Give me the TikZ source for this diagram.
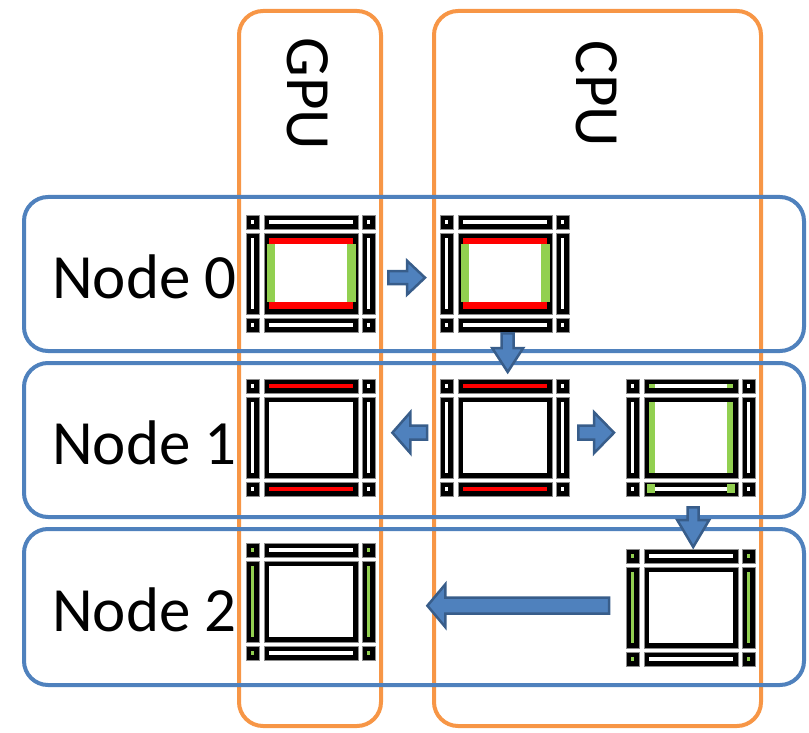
\documentclass[tikz,border=0pt]{standalone}
\usepackage{fontspec}
\setmainfont{Carlito}
\usetikzlibrary{calc}

\definecolor{boxorange}{HTML}{F79646}
\definecolor{boxblue}{HTML}{4F81BD}
\definecolor{arrowfill}{HTML}{4F81BD}
\definecolor{arrowline}{HTML}{385D8A}
\definecolor{hotred}{HTML}{FF0000}
\definecolor{litegreen}{HTML}{92D050}

% block arrow from #1 to #2: shaft half width #3, head half width #4, head length #5
\newcommand\blockarrow[5]{%
  \draw[barrow] let \p1=#1, \p2=#2,
    \n1={atan2(\y2-\y1,\x2-\x1)}, \n2={veclen(\x2-\x1,\y2-\y1)} in
    [shift={(\p1)}, rotate=\n1]
    (0pt,#3pt) -- ({\n2-#5pt},#3pt) -- ({\n2-#5pt},#4pt) -- ({\n2+0pt},0pt)
    -- ({\n2-#5pt},-#4pt) -- ({\n2-#5pt},-#3pt) -- (0pt,-#3pt) -- cycle;}

\tikzset{
  lane/.style={draw=boxblue, line width=4pt, rounded corners=24pt},
  unitcol/.style={draw=boxorange, line width=4pt, rounded corners=24pt},
  lanelabel/.style={font=\fontsize{63}{70}\selectfont, inner sep=0pt, anchor=base west},
  unitlabel/.style={font=\fontsize{63}{70}\selectfont, inner sep=0pt, rotate=-90},
  iconbox/.style={inner sep=0pt, minimum width=129pt, minimum height=117pt, anchor=north west},
  cellframe/.style={fill=black, draw=black!45, line width=0.6pt},
  barrow/.style={fill=arrowfill, draw=arrowline, line width=2.5pt, line join=miter},
  % 3x3 block grid: #1 corner dots, #2 top/bottom slots, #3 side slots
  pics/gridicon/.style n args={3}{code={
    \foreach \xa/\xb in {0/13,116/129}{
      \foreach \ya/\yb in {0/14,103/117}{
        \filldraw[cellframe] (\xa,\ya) rectangle (\xb,\yb);
        \fill[#1] (\xa+5,\ya+5) rectangle (\xb-5,\yb-5);
      }
    }
    \foreach \ya/\yb in {0/14,103/117}{
      \filldraw[cellframe] (18,\ya) rectangle (112,\yb);
      \fill[#2] (23,\ya+5) rectangle (107,\yb-5);
    }
    \foreach \xa/\xb in {0/13,116/129}{
      \filldraw[cellframe] (\xa,18) rectangle (\xb,99);
      \fill[#3] (\xa+5,23) rectangle (\xb-5,94);
    }
    \filldraw[cellframe] (18,18) rectangle (112,99);
    \fill[white] (23,23) rectangle (107,94);
  }},
  % halo of the centre block
  pics/fullframe/.style={code={
    \fill[hotred] (23,23) rectangle (107,29);
    \fill[hotred] (23,87) rectangle (107,94);
    \fill[litegreen] (21,29) rectangle (29,87);
    \fill[litegreen] (101,29) rectangle (109.5,87);
  }},
  % left/right edges of the centre block plus their corner cells
  pics/sideedges/.style={code={
    \fill[litegreen] (23,23) rectangle (28.7,94);
    \fill[litegreen] (101,23) rectangle (107,94);
    \fill[litegreen] (23,5) rectangle (28.7,9);
    \fill[litegreen] (101,5) rectangle (107,9);
    \fill[litegreen] (21,105) rectangle (28.7,114);
    \fill[litegreen] (101,105) rectangle (109.3,114);
  }},
}

\begin{document}
\begin{tikzpicture}[x=1pt, y=-1pt]
\useasboundingbox (0,0) rectangle (809,733);

% processor columns
\draw[unitcol] (239,11) rectangle (381,726);
\draw[unitcol] (434,11) rectangle (761,726);
\node[unitlabel] (gpu) at (308,94) {GPU};
\node[unitlabel] (cpu) at (597,94) {CPU};

% machine lanes
\draw[lane] (24,197) rectangle (804,351);
\draw[lane] (24,363) rectangle (804,517);
\draw[lane] (24,529) rectangle (804,685);
\node[lanelabel] (n0) at (52,298) {Node 0};
\node[lanelabel] (n1) at (52,464) {Node 1};
\node[lanelabel] (n2) at (52,631) {Node 2};

% grids
\node[iconbox] (g0) at (246,215) {};
\pic at (g0.north west) {gridicon={white}{white}{white}};
\pic at (g0.north west) {fullframe};

\node[iconbox] (c0) at (440,215) {};
\pic at (c0.north west) {gridicon={white}{white}{white}};
\pic at (c0.north west) {fullframe};

\node[iconbox] (g1) at (246,379) {};
\pic at (g1.north west) {gridicon={white}{hotred}{white}};

\node[iconbox] (c1) at (440,379) {};
\pic at (c1.north west) {gridicon={white}{hotred}{white}};

\node[iconbox] (r1) at (626,379) {};
\pic at (r1.north west) {gridicon={white}{white}{white}};
\pic at (r1.north west) {sideedges};

\node[iconbox] (r2) at (626,549) {};
\pic at (r2.north west) {gridicon={litegreen}{white}{litegreen}};

\node[iconbox] (g2) at (246,543) {};
\pic at (g2.north west) {gridicon={litegreen}{white}{litegreen}};

% transfers
\blockarrow{($(g0.east)+(13,4)$)}{($(c0.west)+(-15,4)$)}{6.5}{17}{18}
\blockarrow{($(c0.south)+(3,1)$)}{($(c1.north)+(3,-7)$)}{6}{15.5}{24}
\blockarrow{($(c1.west)+(-13,-5)$)}{($(g1.east)+(17,-5)$)}{7}{20.5}{18}
\blockarrow{($(c1.east)+(9,-5)$)}{($(r1.west)+(-12,-5)$)}{7}{20.5}{20}
\blockarrow{($(r1.south)+(2.5,11)$)}{($(r2.north)+(2.5,-2)$)}{5.5}{16}{27}
\blockarrow{($(r2.west)+(-17,-2)$)}{($(g2.east)+(52,4)$)}{8}{21.5}{18}
\end{tikzpicture}
\end{document}
